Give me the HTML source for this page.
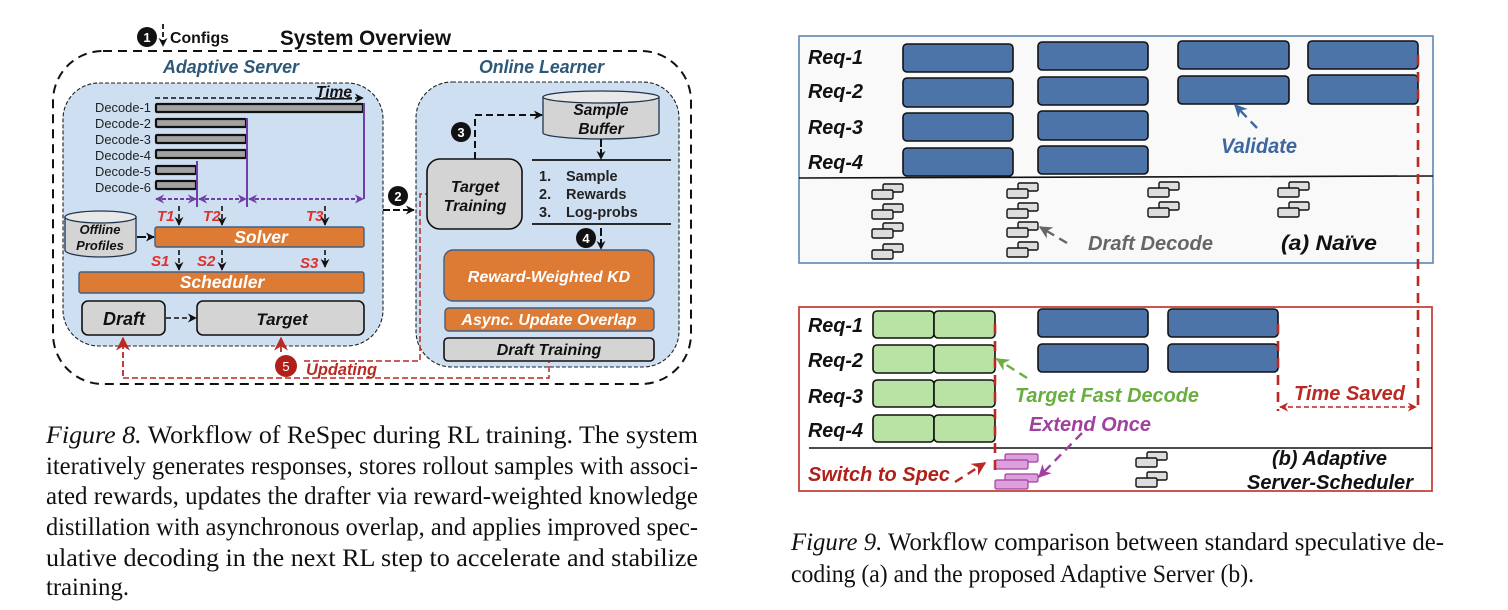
<!DOCTYPE html>
<html lang="en">
<head>
<meta charset="utf-8">
<title>ReSpec figures</title>
<style>
html,body{margin:0;padding:0;background:#fff;width:1508px;height:610px;overflow:hidden}
svg{display:block}
text{font-family:"Liberation Sans",sans-serif}
.b{font-weight:bold}
.bi{font-weight:bold;font-style:italic}
.cap{font-family:"Liberation Serif",serif;font-size:25px;fill:#111}
.cap tspan.i{font-style:italic}
.bar{fill:#a3a3a3;stroke:#111;stroke-width:2.2}
.bl{fill:#4c74a8;stroke:#111;stroke-width:1.6}
.gr{fill:#b9e3a5;stroke:#111;stroke-width:1.6}
.or{fill:#dd7a34;stroke:#3f5f85;stroke-width:1.4}
.gy{fill:#d4d4d4;stroke:#111;stroke-width:1.6}
.pu{stroke:#6f3fa5;stroke-width:2;fill:none}
.blk{stroke:#111;stroke-width:1.6;stroke-dasharray:5 3;fill:none;marker-end:url(#ak)}
.red{stroke:#b92a22;stroke-width:1.5;stroke-dasharray:6 3;fill:none}
.rv{stroke:#b92a22;stroke-width:2.6;stroke-dasharray:10 7;fill:none}
.lab{font-size:13px;fill:#222}
.t{fill:#e0302a;font-size:15px;font-weight:bold;font-style:italic}
</style>
</head>
<body>
<svg xmlns="http://www.w3.org/2000/svg" width="1508" height="610" viewBox="0 0 1508 610">
<defs>
<marker id="ak" viewBox="0 0 10 10" refX="9" refY="5" markerWidth="9" markerHeight="9" markerUnits="userSpaceOnUse" orient="auto-start-reverse"><path d="M0 0L10 5L0 10L3 5Z" fill="#111"/></marker>
<marker id="ap" viewBox="0 0 10 10" refX="9" refY="5" markerWidth="9" markerHeight="9" markerUnits="userSpaceOnUse" orient="auto-start-reverse"><path d="M0 0L10 5L0 10L3 5Z" fill="#6f3fa5"/></marker>
<marker id="ar" viewBox="0 0 10 10" refX="9" refY="5" markerWidth="14" markerHeight="14" markerUnits="userSpaceOnUse" orient="auto"><path d="M0 0L10 5L0 10L3 5Z" fill="#b92a22"/></marker>
<marker id="ars" viewBox="0 0 10 10" refX="9" refY="5" markerWidth="9" markerHeight="9" markerUnits="userSpaceOnUse" orient="auto-start-reverse"><path d="M0 0L10 5L0 10L3 5Z" fill="#b92a22"/></marker>
<marker id="ab" viewBox="0 0 10 10" refX="9" refY="5" markerWidth="13" markerHeight="13" markerUnits="userSpaceOnUse" orient="auto"><path d="M0 0L10 5L0 10L3 5Z" fill="#3d679f"/></marker>
<marker id="ag" viewBox="0 0 10 10" refX="9" refY="5" markerWidth="13" markerHeight="13" markerUnits="userSpaceOnUse" orient="auto"><path d="M0 0L10 5L0 10L3 5Z" fill="#666"/></marker>
<marker id="agr" viewBox="0 0 10 10" refX="9" refY="5" markerWidth="13" markerHeight="13" markerUnits="userSpaceOnUse" orient="auto"><path d="M0 0L10 5L0 10L3 5Z" fill="#6aae40"/></marker>
<marker id="apk" viewBox="0 0 10 10" refX="9" refY="5" markerWidth="13" markerHeight="13" markerUnits="userSpaceOnUse" orient="auto"><path d="M0 0L10 5L0 10L3 5Z" fill="#a040a0"/></marker>
<g id="st">
<rect x="11" y="0" width="20" height="8" rx="1.5" fill="#ddd" stroke="#111" stroke-width="1.4"/>
<rect x="0" y="6" width="21" height="9" rx="1.5" fill="#ddd" stroke="#111" stroke-width="1.4"/>
</g>
<g id="stp">
<rect x="10" y="0" width="33" height="8" rx="1.5" fill="#dda0dc" stroke="#a040a0" stroke-width="1.2"/>
<rect x="0" y="6" width="33" height="9" rx="1.5" fill="#dda0dc" stroke="#a040a0" stroke-width="1.2"/>
</g>
</defs>

<!-- FIGURE 8 -->
<rect x="53" y="51" width="638" height="333" rx="50" fill="#fff" stroke="#111" stroke-width="2" stroke-dasharray="9 6"/>
<rect x="63" y="83" width="320" height="263" rx="36" fill="#cfdff2" stroke="#222" stroke-width="1.1" stroke-dasharray="4 2"/>
<rect x="416" y="82" width="263" height="285" rx="36" fill="#cfdff2" stroke="#222" stroke-width="1.1" stroke-dasharray="4 2"/>

<text x="280" y="45" class="b" font-size="21" textLength="171" lengthAdjust="spacingAndGlyphs" fill="#111">System Overview</text>
<circle cx="147" cy="37" r="10" fill="#111"/><text x="147" y="42" text-anchor="middle" class="b" font-size="13" fill="#fff">1</text>
<path d="M163 24V46" class="blk" style="stroke-width:1.8"/>
<text x="170" y="43" class="b" font-size="16" textLength="59" lengthAdjust="spacingAndGlyphs" fill="#111">Configs</text>
<text x="163" y="73" class="bi" font-size="18" textLength="136" lengthAdjust="spacingAndGlyphs" fill="#2e5877">Adaptive Server</text>
<text x="479" y="73" class="bi" font-size="18" textLength="125" lengthAdjust="spacingAndGlyphs" fill="#2e5877">Online Learner</text>

<!-- Decode bars -->
<text x="95" y="112" class="lab" textLength="56" lengthAdjust="spacingAndGlyphs">Decode-1</text>
<text x="95" y="128" class="lab" textLength="56" lengthAdjust="spacingAndGlyphs">Decode-2</text>
<text x="95" y="144" class="lab" textLength="56" lengthAdjust="spacingAndGlyphs">Decode-3</text>
<text x="95" y="160" class="lab" textLength="56" lengthAdjust="spacingAndGlyphs">Decode-4</text>
<text x="95" y="176" class="lab" textLength="56" lengthAdjust="spacingAndGlyphs">Decode-5</text>
<text x="95" y="192" class="lab" textLength="56" lengthAdjust="spacingAndGlyphs">Decode-6</text>
<rect class="bar" x="156" y="104" width="207" height="8" rx="1"/>
<rect class="bar" x="156" y="119" width="90" height="8" rx="1"/>
<rect class="bar" x="156" y="135" width="90" height="8" rx="1"/>
<rect class="bar" x="156" y="150" width="90" height="8" rx="1"/>
<rect class="bar" x="156" y="166" width="40" height="8" rx="1"/>
<rect class="bar" x="156" y="181" width="40" height="8" rx="1"/>
<path d="M155 98H363" class="blk"/>
<text x="316" y="97" class="bi" font-size="15.500" textLength="36" lengthAdjust="spacingAndGlyphs" fill="#111" text-decoration="underline">Time</text>
<path class="pu" d="M197 161V207M247 118V207M364 103V199"/>
<path d="M156 199H196" class="pu" stroke-dasharray="4 2" marker-start="url(#ap)" marker-end="url(#ap)"/>
<path d="M199 199H246" class="pu" stroke-dasharray="4 2" marker-start="url(#ap)" marker-end="url(#ap)"/>
<path d="M249 199H363" class="pu" stroke-dasharray="4 2" marker-start="url(#ap)" marker-end="url(#ap)"/>

<text x="157" y="221" class="t">T1</text><text x="203" y="221" class="t">T2</text><text x="306" y="221" class="t">T3</text>
<path d="M179 206V225" class="blk"/><path d="M222 206V225" class="blk"/><path d="M325 206V225" class="blk"/>

<!-- Offline profiles -->
<path d="M65 217V250C65 254 82 257 101 257S136 254 136 250V217Z" fill="#d4d4d4" stroke="#1d3550" stroke-width="1.3"/>
<ellipse cx="100.500" cy="217" rx="35.500" ry="6" fill="#e8e8e8" stroke="#1d3550" stroke-width="1.3"/>
<text x="100" y="234" text-anchor="middle" class="bi" font-size="13" fill="#111">Offline</text>
<text x="100" y="250" text-anchor="middle" class="bi" font-size="13" fill="#111">Profiles</text>
<path d="M137 237H154" class="blk" style="stroke-dasharray:9 2;stroke-width:2"/>

<rect class="or" x="155" y="227" width="209" height="20" rx="2"/>
<text x="261" y="243" text-anchor="middle" class="bi" font-size="17.500" fill="#fff">Solver</text>
<text x="151" y="266" class="t">S1</text><text x="197" y="266" class="t">S2</text><text x="300" y="268" class="t">S3</text>
<path d="M179 250V270" class="blk"/><path d="M222 250V270" class="blk"/><path d="M325 250V267" class="blk"/>
<rect class="or" x="79" y="272" width="285" height="21" rx="2"/>
<text x="222" y="288" text-anchor="middle" class="bi" font-size="17.500" fill="#fff">Scheduler</text>

<rect class="gy" x="82" y="301" width="83" height="34" rx="6"/>
<text x="124" y="325" text-anchor="middle" class="bi" font-size="18" fill="#111">Draft</text>
<rect class="gy" x="197" y="301" width="167" height="34" rx="6"/>
<text x="282" y="325" text-anchor="middle" class="bi" font-size="17" fill="#111">Target</text>
<path d="M166 318H196" class="blk"/>

<!-- Updating -->
<path d="M123 376V338" class="red" marker-end="url(#ar)" style="stroke-width:1.8"/>
<path d="M281 352V338" class="red" marker-end="url(#ar)" style="stroke-width:1.8"/>
<path d="M123 378H549V362" class="red"/>
<path d="M304 361H420V194H427" class="red"/>
<circle cx="286" cy="366" r="11" fill="#b01f19"/><text x="286" y="371" text-anchor="middle" font-size="13" fill="#fff">5</text>
<text x="306" y="375" class="bi" font-size="16.500" textLength="71" lengthAdjust="spacingAndGlyphs" fill="#b92a22">Updating</text>

<!-- 2 -->
<path d="M383 210H414" class="blk" style="stroke-width:2;stroke-dasharray:7 3"/>
<circle cx="398" cy="196" r="10" fill="#111"/><text x="398" y="201" text-anchor="middle" class="b" font-size="13" fill="#fff">2</text>

<!-- Online learner -->
<rect class="gy" x="427" y="159" width="95" height="70" rx="13"/>
<text x="475" y="192" text-anchor="middle" class="bi" font-size="16" fill="#111">Target</text>
<text x="475" y="211" text-anchor="middle" class="bi" font-size="16" fill="#111">Training</text>
<path d="M475 159V115H542" class="blk" style="stroke-width:2;stroke-dasharray:7 4"/>
<circle cx="461" cy="132" r="10" fill="#111"/><text x="461" y="137" text-anchor="middle" class="b" font-size="13" fill="#fff">3</text>

<path d="M543 97V133C543 136 570 139 601 139S659 136 659 133V97Z" fill="#d4d4d4" stroke="#1d3550" stroke-width="1.3"/>
<ellipse cx="601" cy="97" rx="58" ry="6" fill="#e8e8e8" stroke="#1d3550" stroke-width="1.3"/>
<text x="601" y="115" text-anchor="middle" class="bi" font-size="15.500" fill="#111">Sample</text>
<text x="601" y="134" text-anchor="middle" class="bi" font-size="15.500" fill="#111">Buffer</text>
<path d="M601 139V159" class="blk" style="stroke-width:2;stroke-dasharray:8 2"/>
<path d="M532 160H671M532 224H671" stroke="#111" stroke-width="1.8"/>
<g class="b" font-size="14.500" fill="#222">
<text x="539" y="181">1.</text><text x="566" y="181">Sample</text>
<text x="539" y="199">2.</text><text x="566" y="199">Rewards</text>
<text x="539" y="217">3.</text><text x="566" y="217">Log-probs</text>
</g>
<path d="M601 228V249" class="blk" style="stroke-width:2;stroke-dasharray:8 3"/>
<circle cx="586" cy="238" r="10" fill="#111"/><text x="586" y="243" text-anchor="middle" class="b" font-size="13" fill="#fff">4</text>
<rect class="or" x="444" y="250" width="210" height="51" rx="9"/>
<text x="549" y="282" text-anchor="middle" class="bi" font-size="16" fill="#fff">Reward-Weighted KD</text>
<rect class="or" x="445" y="308" width="209" height="23" rx="4"/>
<text x="549" y="325" text-anchor="middle" class="bi" font-size="16" fill="#fff">Async. Update Overlap</text>
<rect class="gy" x="444" y="338" width="210" height="23" rx="4"/>
<text x="549" y="355" text-anchor="middle" class="bi" font-size="16" fill="#111">Draft Training</text>

<!-- Fig 8 caption -->
<text class="cap" x="46" y="443" textLength="652" lengthAdjust="spacingAndGlyphs"><tspan class="i">Figure 8.</tspan> Workflow of ReSpec during RL training.  The system</text>
<text class="cap" x="46" y="474" textLength="652" lengthAdjust="spacingAndGlyphs">iteratively generates responses, stores rollout samples with associ-</text>
<text class="cap" x="46" y="504" textLength="652" lengthAdjust="spacingAndGlyphs">ated rewards, updates the drafter via reward-weighted knowledge</text>
<text class="cap" x="46" y="535" textLength="652" lengthAdjust="spacingAndGlyphs">distillation with asynchronous overlap, and applies improved spec-</text>
<text class="cap" x="46" y="566" textLength="652" lengthAdjust="spacingAndGlyphs">ulative decoding in the next RL step to accelerate and stabilize</text>
<text class="cap" x="46" y="595" textLength="83" lengthAdjust="spacingAndGlyphs">training.</text>

<!-- FIGURE 9 (a) -->
<rect x="799" y="36" width="634" height="227" fill="#f9f9f9" stroke="#5f86b5" stroke-width="1.6"/>
<g class="bi" font-size="20" fill="#111">
<text x="808" y="64" textLength="55" lengthAdjust="spacingAndGlyphs">Req-1</text>
<text x="808" y="98" textLength="55" lengthAdjust="spacingAndGlyphs">Req-2</text>
<text x="808" y="134" textLength="55" lengthAdjust="spacingAndGlyphs">Req-3</text>
<text x="808" y="169" textLength="55" lengthAdjust="spacingAndGlyphs">Req-4</text>
</g>
<rect class="bl" x="903" y="44" width="110" height="28" rx="4"/>
<rect class="bl" x="903" y="78" width="110" height="29" rx="4"/>
<rect class="bl" x="903" y="113" width="110" height="28" rx="4"/>
<rect class="bl" x="903" y="148" width="110" height="28" rx="4"/>
<rect class="bl" x="1038" y="42" width="110" height="28" rx="4"/>
<rect class="bl" x="1038" y="77" width="110" height="28" rx="4"/>
<rect class="bl" x="1038" y="111" width="110" height="29" rx="4"/>
<rect class="bl" x="1038" y="146" width="110" height="28" rx="4"/>
<rect class="bl" x="1178" y="41" width="111" height="28" rx="4"/>
<rect class="bl" x="1178" y="76" width="111" height="28" rx="4"/>
<rect class="bl" x="1308" y="41" width="110" height="28" rx="4"/>
<rect class="bl" x="1308" y="75" width="110" height="29" rx="4"/>
<path d="M799 178L1433 176" stroke="#111" stroke-width="1.6"/>
<use href="#st" x="872" y="184"/><use href="#st" x="872" y="204"/><use href="#st" x="872" y="223"/><use href="#st" x="872" y="244"/>
<use href="#st" x="1007" y="183"/><use href="#st" x="1007" y="203"/><use href="#st" x="1007" y="222"/><use href="#st" x="1007" y="242"/>
<use href="#st" x="1148" y="182"/><use href="#st" x="1148" y="202"/>
<use href="#st" x="1278" y="182"/><use href="#st" x="1278" y="202"/>
<path d="M1257 128L1235 105" stroke="#3d679f" stroke-width="2.400" stroke-dasharray="9 6" fill="none" marker-end="url(#ab)"/>
<text x="1221" y="153" class="bi" font-size="21" textLength="76" lengthAdjust="spacingAndGlyphs" fill="#3d679f">Validate</text>
<path d="M1067 243L1040 227" stroke="#666" stroke-width="2.400" stroke-dasharray="9 6" fill="none" marker-end="url(#ag)"/>
<text x="1088" y="250" class="bi" font-size="20.500" textLength="125" lengthAdjust="spacingAndGlyphs" fill="#666">Draft Decode</text>
<text x="1281" y="250" class="bi" font-size="21" textLength="96" lengthAdjust="spacingAndGlyphs" fill="#111">(a) Naïve</text>

<!-- FIGURE 9 (b) -->
<rect x="799" y="307" width="633" height="184" fill="#fff" stroke="#c5443c" stroke-width="1.8"/>
<g class="bi" font-size="20" fill="#111">
<text x="808" y="332" textLength="55" lengthAdjust="spacingAndGlyphs">Req-1</text>
<text x="808" y="367" textLength="55" lengthAdjust="spacingAndGlyphs">Req-2</text>
<text x="808" y="403" textLength="55" lengthAdjust="spacingAndGlyphs">Req-3</text>
<text x="808" y="437" textLength="55" lengthAdjust="spacingAndGlyphs">Req-4</text>
</g>
<g class="gr">
<rect x="873" y="311" width="61" height="27" rx="4"/><rect x="934" y="311" width="61" height="27" rx="4"/>
<rect x="873" y="345" width="61" height="28" rx="4"/><rect x="934" y="345" width="61" height="28" rx="4"/>
<rect x="873" y="380" width="61" height="27" rx="4"/><rect x="934" y="380" width="61" height="27" rx="4"/>
<rect x="873" y="415" width="61" height="27" rx="4"/><rect x="934" y="415" width="61" height="27" rx="4"/>
</g>
<rect class="bl" x="1038" y="309" width="110" height="28" rx="4"/>
<rect class="bl" x="1038" y="344" width="110" height="28" rx="4"/>
<rect class="bl" x="1168" y="309" width="110" height="28" rx="4"/>
<rect class="bl" x="1168" y="344" width="110" height="28" rx="4"/>
<path d="M809 448H1432" stroke="#111" stroke-width="1.600"/>
<use href="#stp" x="995" y="454"/><use href="#stp" x="995" y="474"/>
<use href="#st" x="1136" y="452"/><use href="#st" x="1136" y="472"/>
<path class="rv" d="M995 324V477"/>
<path class="rv" d="M1278 324V411"/>
<path class="rv" d="M1418 55V411"/>
<path d="M1280 407H1416" stroke="#b92a22" stroke-width="1.600" stroke-dasharray="5 3" fill="none" marker-start="url(#ars)" marker-end="url(#ars)"/>
<text x="1294" y="400" class="bi" font-size="20" textLength="111" lengthAdjust="spacingAndGlyphs" fill="#b92a22">Time Saved</text>
<path d="M1027 378L997 359" stroke="#6aae40" stroke-width="2.400" stroke-dasharray="9 6" fill="none" marker-end="url(#agr)"/>
<text x="1015" y="402" class="bi" font-size="20" textLength="184" lengthAdjust="spacingAndGlyphs" fill="#6aae40">Target Fast Decode</text>
<text x="1029" y="431" class="bi" font-size="20" textLength="122" lengthAdjust="spacingAndGlyphs" fill="#a040a0">Extend Once</text>
<path d="M1082 433L1039 477" stroke="#a040a0" stroke-width="2.400" stroke-dasharray="9 6" fill="none" marker-end="url(#apk)"/>
<text x="808" y="481" class="bi" font-size="20" textLength="142" lengthAdjust="spacingAndGlyphs" fill="#b01f19">Switch to Spec</text>
<path d="M955 482L985 463" stroke="#b92a22" stroke-width="2.400" stroke-dasharray="9 6" fill="none" marker-end="url(#ar)"/>
<text x="1272" y="465" class="bi" font-size="20" textLength="115" lengthAdjust="spacingAndGlyphs" fill="#111">(b) Adaptive</text>
<text x="1247" y="489" class="bi" font-size="20" textLength="166" lengthAdjust="spacingAndGlyphs" fill="#111">Server-Scheduler</text>

<!-- Fig 9 caption -->
<text class="cap" x="791" y="550" textLength="653" lengthAdjust="spacingAndGlyphs"><tspan class="i">Figure 9.</tspan> Workflow comparison between standard speculative de-</text>
<text class="cap" x="791" y="582" textLength="463" lengthAdjust="spacingAndGlyphs">coding (a) and the proposed Adaptive Server (b).</text>
</svg>
</body>
</html>
